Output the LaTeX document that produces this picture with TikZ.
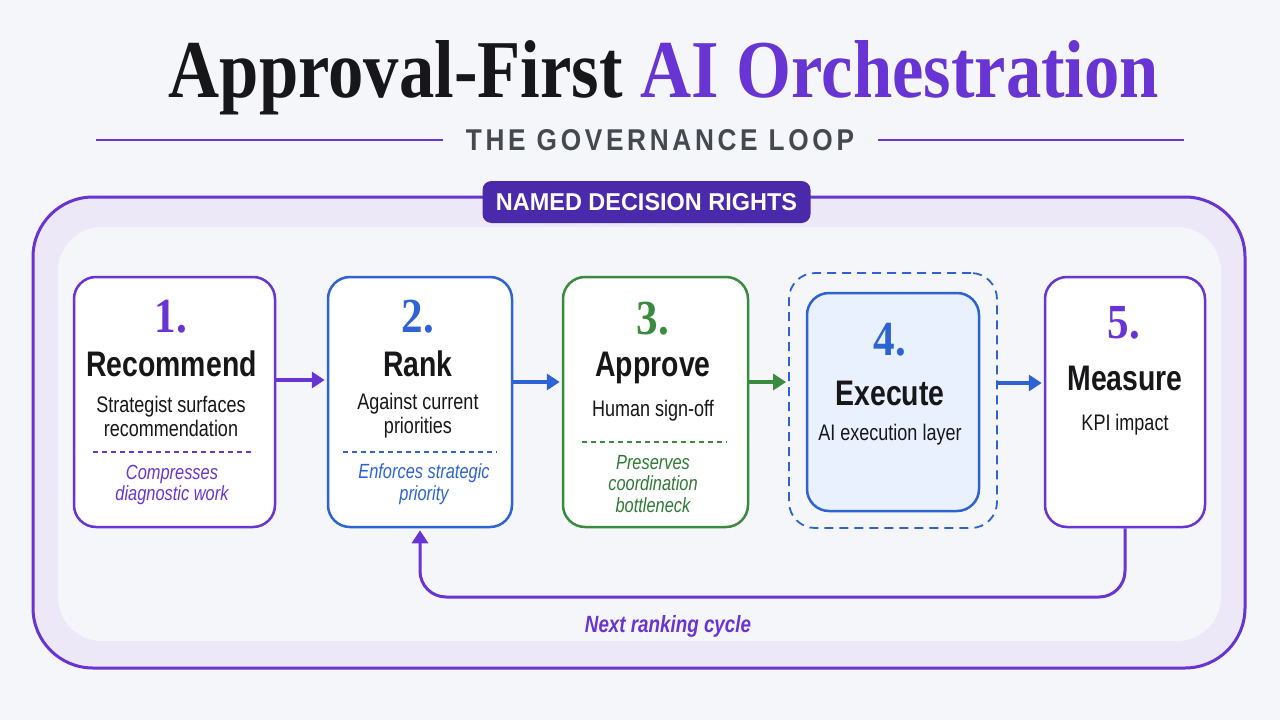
\documentclass[tikz,border=0pt]{standalone}
\usepackage{fontspec}
\usepackage{graphicx}
\setmainfont{Liberation Sans}[FakeStretch=0.8]
\newfontfamily\numfont{Liberation Serif}[FakeStretch=0.88]
\newfontfamily\headfont{Liberation Serif}
\newfontfamily\trackfont{Liberation Sans}[LetterSpace=14]
\usetikzlibrary{arrows.meta,positioning}
\definecolor{govink}{HTML}{17171A}
\definecolor{govgrey}{HTML}{45484F}
\definecolor{govpurple}{HTML}{6834D4}
\definecolor{govdeep}{HTML}{4A2AAA}
\definecolor{govblue}{HTML}{2D63D3}
\definecolor{govgreen}{HTML}{3A8B3F}
\definecolor{govleaf}{HTML}{2F7A33}
\definecolor{govbg}{HTML}{F5F6F9}
\definecolor{govband}{HTML}{ECE8F8}
\definecolor{govinner}{HTML}{F5F6FA}
\definecolor{govsky}{HTML}{E9F1FE}
\tikzset{
  stage/.style={rounded corners=22pt, line width=2.5pt, fill=white, inner sep=0pt},
  num/.style={font=\numfont\bfseries\fontsize{49}{49}\selectfont},
  head/.style={font=\bfseries\fontsize{35.5}{38}\selectfont, text=govink},
  desc/.style={font=\fontsize{22.5}{24}\selectfont, align=center, text=govink},
  note/.style={font=\itshape\fontsize{20.5}{21.5}\selectfont, align=center},
  sep/.style={line width=1.2pt, dash pattern=on 5pt off 4pt},
  arr/.style={-{Triangle[length=13pt,width=16pt]}, line width=3.5pt, shorten >=2pt},
  fb/.style={arr, color=govpurple, line width=3pt, rounded corners=26pt},
  rule/.style={govpurple, line width=1.6pt},
  badge/.style={fill=govdeep, rounded corners=9pt, minimum width=328pt, minimum height=42pt, inner sep=0pt},
}
\begin{document}
\begin{tikzpicture}[x=1pt, y=-1pt]
  \fill[govbg] (0,0) rectangle (1280,720);
  \useasboundingbox (0,0) rectangle (1280,720);
  % heading
  \node[anchor=base, inner sep=0pt] (title) at (664,97)
    {\resizebox{990pt}{57pt}{\headfont\bfseries\color{govink}Approval-First \color{govpurple}AI Orchestration}};
  \node[inner sep=0pt] (sub) at (660,140.5)
    {\resizebox{388pt}{21pt}{\trackfont\bfseries\color{govgrey}THE GOVERNANCE LOOP}};
  \draw[rule] (96,140) -- (443,140);
  \draw[rule] (878,140) -- (1184,140);
  % frame
  \draw[govpurple, line width=3pt, fill=govband, rounded corners=60pt] (33,197) rectangle (1245,668);
  \fill[govinner, rounded corners=44pt] (58,227) rectangle (1221,641);
  \node[badge] (rights) at (646.5,202)
    {\resizebox{301pt}{17pt}{\bfseries\color{white}NAMED DECISION RIGHTS}};
  % stages
  \node[stage, draw=govpurple, minimum width=201pt, minimum height=250pt] (rec) at (174.5,402) {};
  \node[stage, draw=govblue, minimum width=184pt, minimum height=250pt] (rnk) at (420,402) {};
  \node[stage, draw=govgreen, minimum width=185pt, minimum height=250pt] (apv) at (655.5,402) {};
  \node[draw=govblue, line width=1.8pt, dash pattern=on 9pt off 6pt, rounded corners=26pt, minimum width=208pt, minimum height=255pt] (exewrap) at (893,400.5) {};
  \node[stage, draw=govblue, fill=govsky, minimum width=172pt, minimum height=218pt] (exe) at (893,402) {};
  \node[stage, draw=govpurple, minimum width=160pt, minimum height=250pt] (msr) at (1125,402) {};
  % texts
  \node[num, text=govpurple] (n1) at (171,317) {1.};
  \node[head] (h1) at (171.5,364) {Recommend};
  \node[desc] (d1) at (171,416) {Strategist surfaces\\recommendation};
  \draw[sep, govpurple] (93,452) -- (255,452);
  \node[note, text=govpurple] (e1) at (172,485) {Compresses\\diagnostic work};
  \node[num, text=govblue] (n2) at (418,317) {2.};
  \node[head] (h2) at (418,364) {Rank};
  \node[desc] (d2) at (418,416) {Against current\\priorities};
  \draw[sep, govblue] (343,452) -- (497,452);
  \node[note, text=govblue] (e2) at (424,484) {Enforces strategic\\priority};
  \node[num, text=govgreen] (n3) at (653,319) {3.};
  \node[head] (h3) at (653,368) {Approve};
  \node[desc] (d3) at (653,411) {Human sign-off};
  \draw[sep, govgreen] (582,442) -- (727,442);
  \node[note, text=govleaf] (e3) at (653,484) {Preserves\\coordination\\bottleneck};
  \node[num, text=govblue] (n4) at (890,340) {4.};
  \node[head] (h4) at (890,393) {Execute};
  \node[desc] (d4) at (890,435) {AI execution layer};
  \node[num, text=govpurple] (n5) at (1124,323) {5.};
  \node[head] (h5) at (1125,378) {Measure};
  \node[desc] (d5) at (1125,425) {KPI impact};
  % flow
  \draw[arr, govpurple] ([yshift=22pt]rec.east) -- ([yshift=22pt]rnk.west);
  \draw[arr, govblue] ([yshift=20pt]rnk.east) -- ([yshift=20pt]apv.west);
  \draw[arr, govgreen] ([yshift=20pt]apv.east) -- ([yshift=20pt]apv.east -| exewrap.west);
  \draw[arr, govblue] ([yshift=19pt]msr.west -| exewrap.east) -- ([yshift=19pt]msr.west);
  \coordinate (rail) at (770,597);
  \draw[fb] (msr.south) -- (msr.south |- rail) -- (rnk.south |- rail) -- (rnk.south);
  \node[font=\bfseries\itshape\fontsize{23.5}{25}\selectfont, text=govpurple] (cyc) at (668,626) {Next ranking cycle};
\end{tikzpicture}
\end{document}
